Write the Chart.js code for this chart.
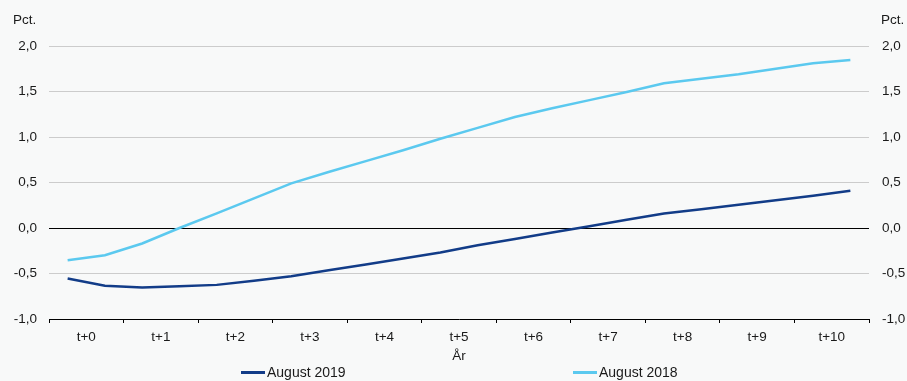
<!DOCTYPE html>
<html>
<head>
<meta charset="utf-8">
<script src="https://cdn.jsdelivr.net/npm/chart.js@4/dist/chart.umd.min.js"></script>
<style>
    body {
        margin: 0;
        background: #f8f9f9;
    }

    #wrap {
        position: relative;
        width: 907px;
        height: 381px;
        font-family: "Liberation Sans", Arial, sans-serif;
        color: #1a1a1a;
    }

    #chart {
        position: absolute;
        left: 0;
        top: 0;
    }

    .unit {
        position: absolute;
        top: 12px;
        font-size: 13.5px;
    }

    .legend-item {
        position: absolute;
        top: 364px;
        font-size: 14px;
        line-height: 16px;
        display: flex;
        align-items: center;
    }

    .legend-item .line {
        display: inline-block;
        width: 24px;
        height: 3px;
        margin-right: 2px;
    }
</style>
</head>
<body>

<div id="wrap">
    <canvas id="chart" width="907" height="381"></canvas>
    <div class="unit" style="left:13px;">Pct.</div>
    <div class="unit" style="left:881px;">Pct.</div>
    <div class="legend-item" style="left:241px;">
        <span class="line" style="background:#123c88;"></span>August 2019
    </div>
    <div class="legend-item" style="left:573px;">
        <span class="line" style="background:#5bc9ef;"></span>August 2018
    </div>
</div>

<script>

// one label per year, two (half-year) points per year
const yearLabels = [
    "t+0", "t+1", "t+2", "t+3", "t+4", "t+5",
    "t+6", "t+7", "t+8", "t+9", "t+10"
];

const august2019 = [
    -0.555, -0.635, -0.655, -0.64, -0.625, -0.58,
    -0.53, -0.465, -0.40, -0.335, -0.27, -0.19,
    -0.12, -0.05, 0.02, 0.09, 0.16, 0.205,
    0.255, 0.305, 0.355, 0.41
];

const august2018 = [
    -0.355, -0.30, -0.17, 0.0, 0.16, 0.325,
    0.49, 0.615, 0.735, 0.855, 0.98, 1.10,
    1.22, 1.315, 1.405, 1.495, 1.59, 1.64,
    1.69, 1.75, 1.81, 1.845
];

const yTicks = [-1.0, -0.5, 0.0, 0.5, 1.0, 1.5, 2.0];

function toPoints(values) {
    return values.map((v, i) => ({ x: i, y: v }));
}

function formatTick(value) {
    return value.toFixed(1).replace(".", ",");
}

const tickFont = {
    family: "'Liberation Sans', Arial, sans-serif",
    size: 13.5
};

new Chart(document.getElementById("chart"), {

    type: "line",

    data: {
        datasets: [
            {
                label: "August 2019",
                data: toPoints(august2019),
                borderColor: "#123c88",
                borderWidth: 2.5,
                pointRadius: 0,
                tension: 0
            },
            {
                label: "August 2018",
                data: toPoints(august2018),
                borderColor: "#5bc9ef",
                borderWidth: 2.5,
                pointRadius: 0,
                tension: 0
            }
        ]
    },

    options: {

        responsive: false,
        animation: false,

        layout: {
            padding: { top: 46, right: 0, bottom: 0, left: 0 }
        },

        plugins: {
            legend: { display: false },
            tooltip: { enabled: false }
        },

        scales: {

            x: {
                type: "linear",
                min: -0.5,
                max: 21.5,
                afterBuildTicks: scale => {
                    let ticks = [];
                    for (let j = 0; j <= 22; j++) {
                        ticks.push({ value: -0.5 + j });
                    }
                    scale.ticks = ticks;
                },
                afterFit: scale => {
                    scale.height = 62;
                },
                ticks: {
                    autoSkip: false,
                    maxRotation: 0,
                    padding: 6,
                    color: "#1a1a1a",
                    font: tickFont,
                    callback: (value, index) =>
                        index % 2 === 1 ? yearLabels[(index - 1) / 2] : ""
                },
                grid: {
                    drawOnChartArea: false,
                    drawTicks: true,
                    tickLength: 4,
                    tickColor: ctx =>
                        ctx.index % 2 === 0 ? "#000000" : "rgba(0,0,0,0)"
                },
                border: {
                    color: "#000000",
                    width: 1
                },
                title: {
                    display: true,
                    text: "År",
                    color: "#1a1a1a",
                    font: tickFont,
                    padding: { top: 0, bottom: 17 }
                }
            },

            y: {
                position: "left",
                min: -1,
                max: 2,
                afterBuildTicks: scale => {
                    scale.ticks = yTicks.map(v => ({ value: v }));
                },
                afterFit: scale => {
                    scale.width = 49;
                },
                ticks: {
                    padding: 12,
                    color: "#1a1a1a",
                    font: tickFont,
                    callback: value => formatTick(value)
                },
                grid: {
                    drawTicks: false,
                    color: ctx =>
                        ctx.tick && ctx.tick.value === 0 ? "#000000" : "#cccccc"
                },
                border: { display: false }
            },

            y2: {
                position: "right",
                min: -1,
                max: 2,
                afterBuildTicks: scale => {
                    scale.ticks = yTicks.map(v => ({ value: v }));
                },
                afterFit: scale => {
                    scale.width = 38;
                },
                ticks: {
                    padding: 13,
                    color: "#1a1a1a",
                    font: tickFont,
                    callback: value => formatTick(value)
                },
                grid: {
                    display: false,
                    drawTicks: false
                },
                border: { display: false }
            }

        }

    }

});

</script>
</body>
</html>
